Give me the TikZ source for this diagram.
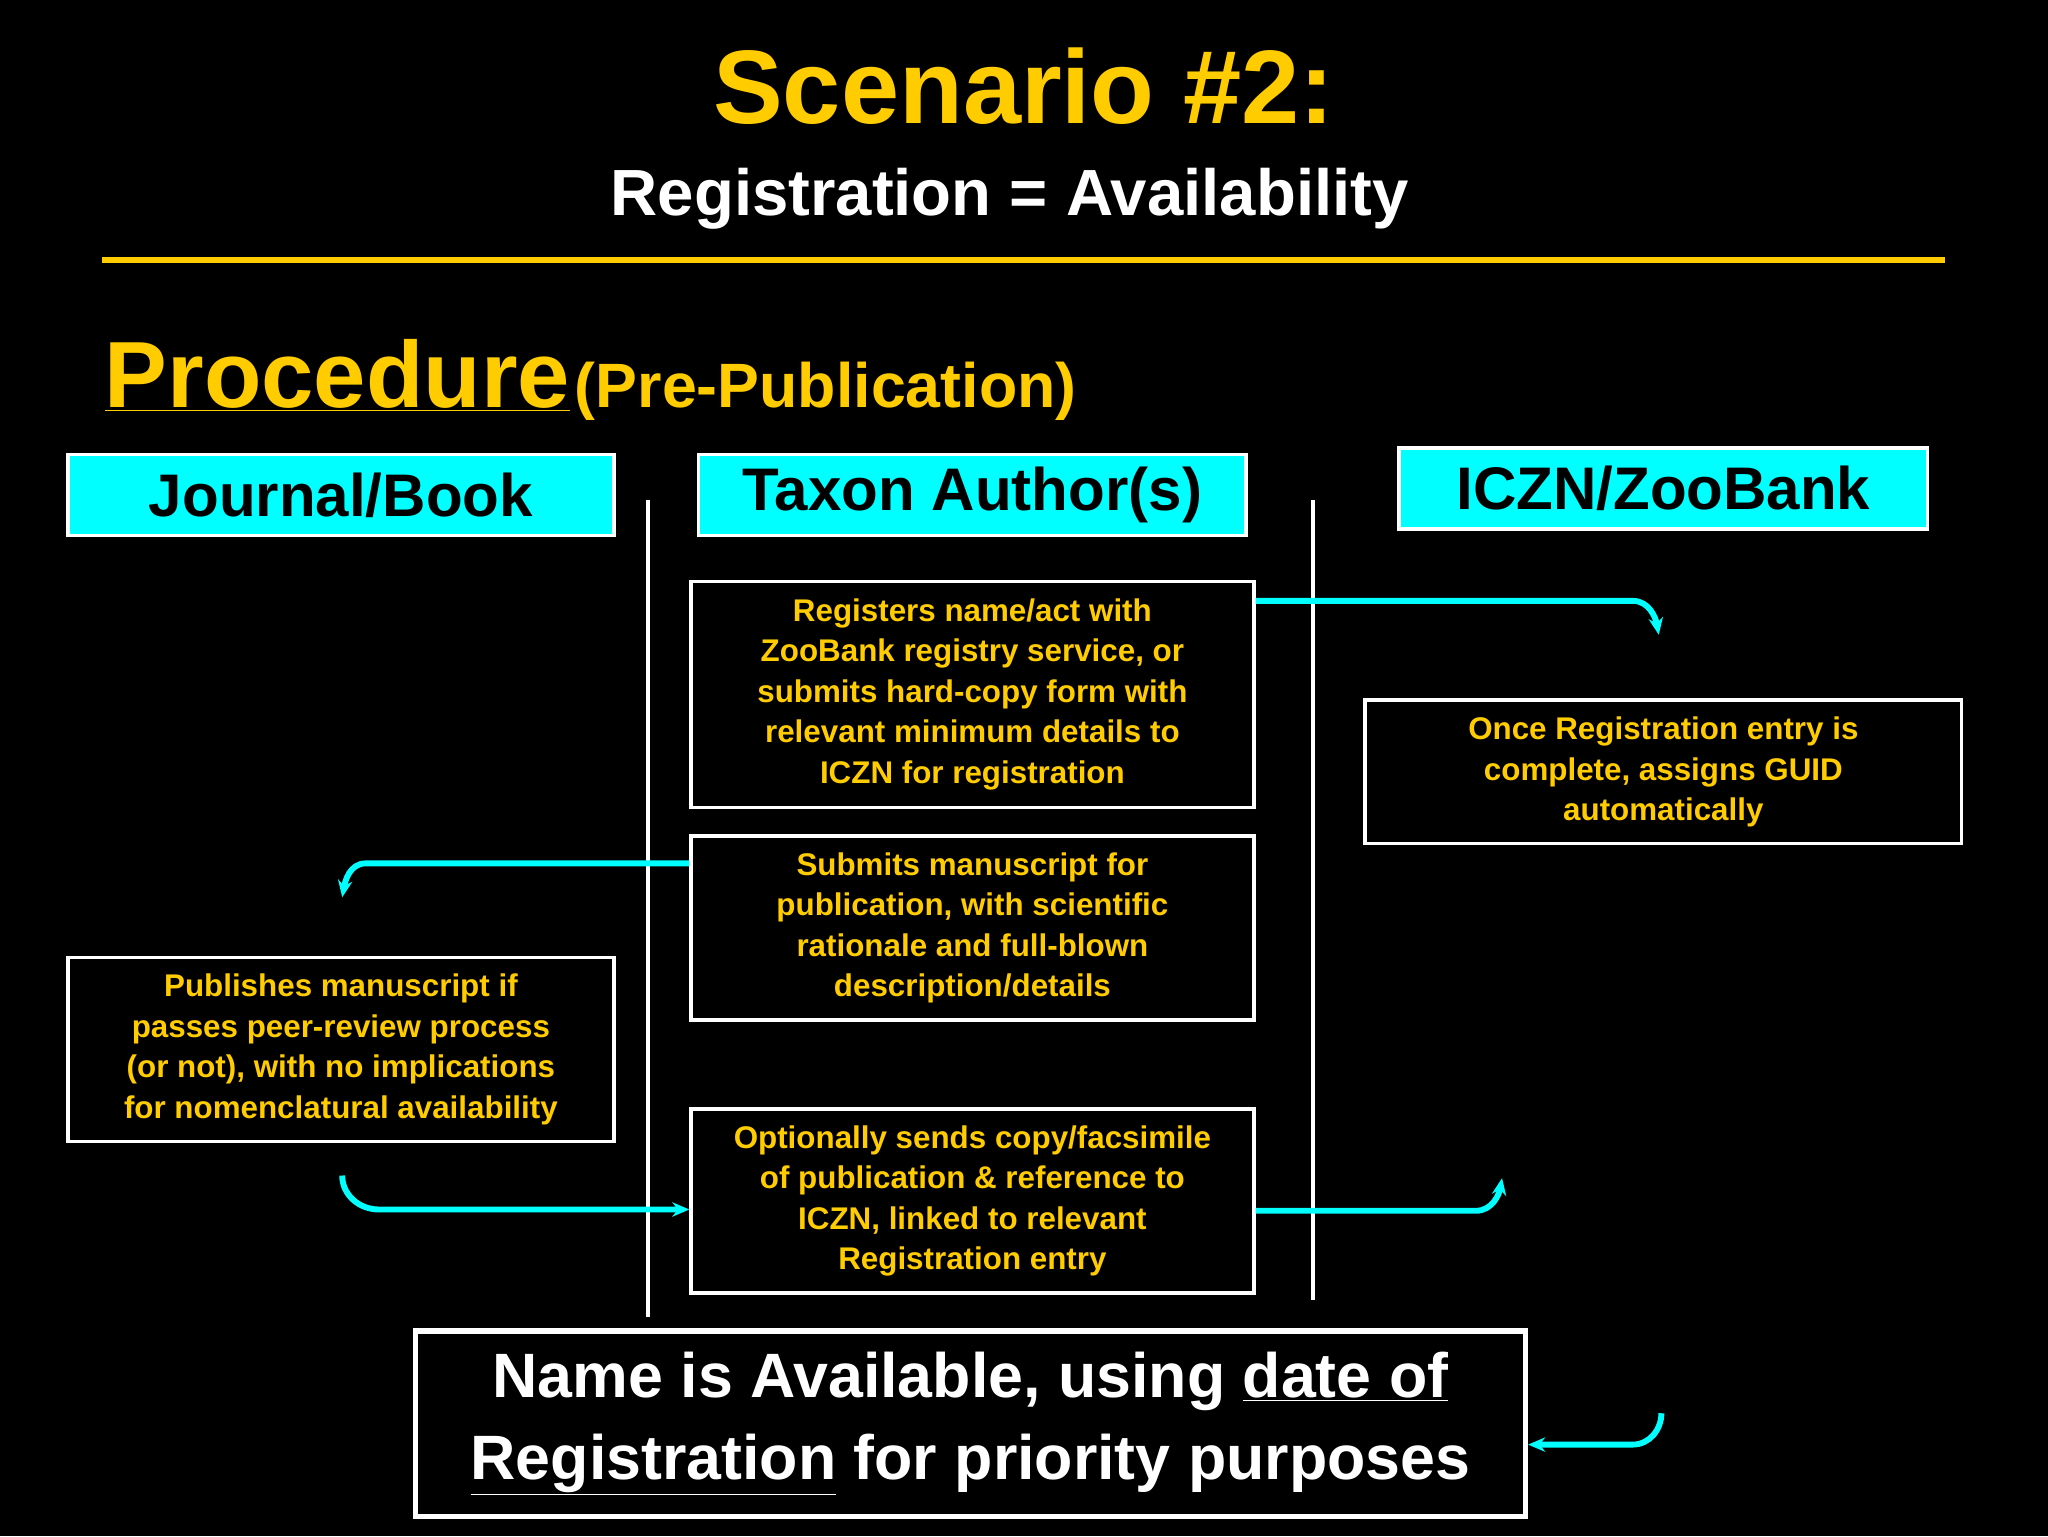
\documentclass[tikz,border=0pt]{standalone}
\usepackage{fontspec}
\setmainfont{Liberation Sans}
\usetikzlibrary{arrows.meta}
\definecolor{ylw}{RGB}{255,204,0}
\definecolor{cyn}{RGB}{0,255,255}
\begin{document}
\begin{tikzpicture}[x=1pt,y=-1pt,
  hdr/.style={draw=white,line width=2.5pt,fill=cyn,text=black,font=\bfseries\fontsize{46}{50}\selectfont,inner sep=0pt},
  txt/.style={draw=white,line width=2.5pt,text=ylw,font=\bfseries\fontsize{24}{31}\selectfont,align=center,inner sep=0pt},
  flow/.style={cyn,line width=4.5pt,-{Stealth[length=13pt,width=11pt,open]}}]
\fill[black] (0,0) rectangle (1568,1176);
\useasboundingbox (0,0) rectangle (1568,1176);
\node[text=ylw,font=\bfseries\fontsize{80}{84}\selectfont] (t) at (784,66) {Scenario \#2:};
\node[text=white,font=\bfseries\fontsize{50}{54}\selectfont] (s) at (773,152) {Registration = Availability};
\draw[ylw,line width=5pt] (78,199) coordinate (r1) -- (1489,199) coordinate (r2);
\node[text=ylw,font=\bfseries\fontsize{72}{76}\selectfont,anchor=base west,inner sep=0pt] (p) at (80,312) {\underline{Procedure}};
\node[text=ylw,font=\bfseries\fontsize{48}{52}\selectfont,anchor=base west,inner sep=0pt] (pp) at (440,312) {(Pre-Publication)};
\node[hdr,minimum width=418pt,minimum height=62pt] (h1) at (261,379) {Journal/Book};
\node[hdr,minimum width=419pt,minimum height=62pt] (h2) at (744.5,379) {Taxon Author(s)};
\node[hdr,minimum width=405pt,minimum height=62pt] (h3) at (1273.5,374) {ICZN/ZooBank};
\draw[white,line width=3pt] (496,383) coordinate (v1a) -- (496,1008) coordinate (v1b);
\draw[white,line width=3pt] (1005,383) coordinate (v2a) -- (1005,995) coordinate (v2b);
\node[txt,minimum width=431pt,minimum height=173pt] (b1) at (744.5,531.5) {Registers name/act with\\ZooBank registry service, or\\submits hard-copy form with\\relevant minimum details to\\ICZN for registration};
\node[txt,minimum width=431pt,minimum height=141pt] (b2) at (744.5,710.5) {Submits manuscript for\\publication, with scientific\\rationale and full-blown\\description/details};
\node[txt,minimum width=431pt,minimum height=141pt] (b3) at (744.5,919.5) {Optionally sends copy/facsimile\\of publication \& reference to\\ICZN, linked to relevant\\Registration entry};
\node[txt,minimum width=457pt,minimum height=110pt] (br) at (1273.5,591) {Once Registration entry is\\complete, assigns GUID\\automatically};
\node[txt,minimum width=418pt,minimum height=141pt] (bl) at (261,803.5) {Publishes manuscript if\\passes peer-review process\\(or not), with no implications\\for nomenclatural availability};
\node[draw=white,line width=4pt,text=white,font=\bfseries\fontsize{48}{63}\selectfont,align=center,minimum width=850pt,minimum height=142pt,inner sep=0pt] (bot) at (743,1090) {Name is Available, using \underline{date of}\\\underline{Registration} for priority purposes};
\coordinate (e1) at (1270,486);
\coordinate (e2) at (262,687);
\coordinate (s3) at (262,900);
\coordinate (e4) at (1150,902);
\coordinate (s5) at (1272,1082);
\draw[flow] (b1.east|-0,460) -- (1250,460) to[out=0,in=100] (e1);
\draw[flow] (b2.west|-0,661) -- (280,661) to[out=180,in=80] (e2);
\draw[flow] (s3) to[out=-90,in=180] (290,926) -- (b3.west|-0,926);
\draw[flow] (b3.east|-0,927) -- (1130,927) to[out=0,in=-100] (e4);
\draw[flow] (s5) to[out=-90,in=0] (1250,1106) -- (bot.east|-0,1106);
\end{tikzpicture}
\end{document}
